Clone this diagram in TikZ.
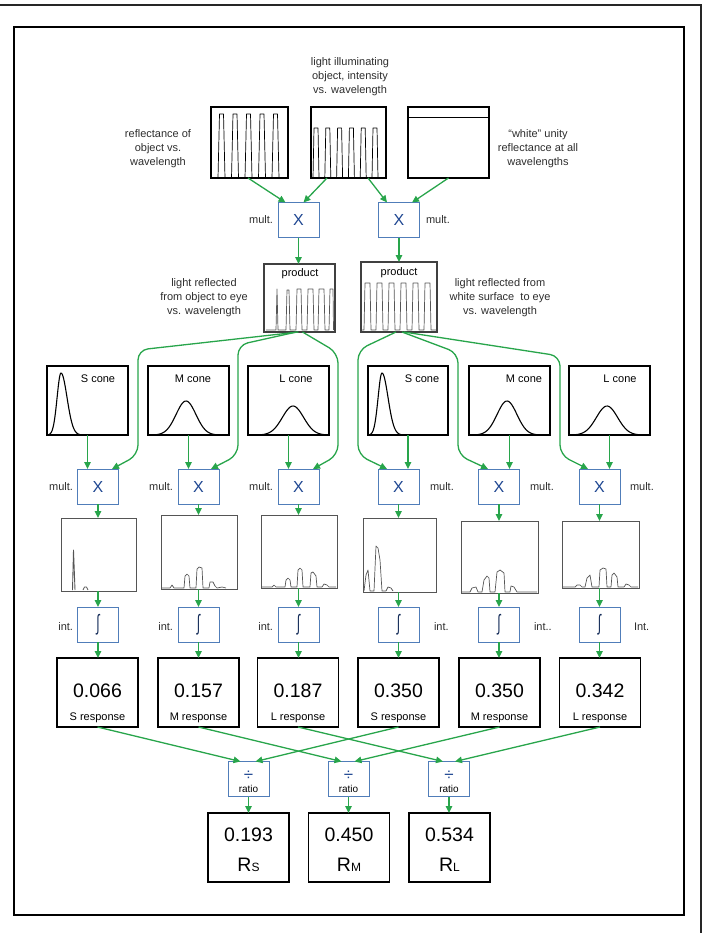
\documentclass[tikz,border=0pt]{standalone}
\usepackage{fontspec}
\usepackage{graphicx}
\setmainfont{Liberation Sans}
\usetikzlibrary{arrows.meta,calc}
\definecolor{agreen}{RGB}{40,165,75}
\definecolor{bblue}{RGB}{80,125,185}
\definecolor{xblue}{RGB}{30,70,145}
\definecolor{lgray}{RGB}{45,45,45}
\definecolor{pgray}{RGB}{85,85,85}
\begin{document}
\begin{tikzpicture}[x=1pt,y=-1pt,
  every node/.style={inner sep=0pt,outer sep=0pt},
  lbl/.style={font=\fontsize{11}{14}\selectfont,text=lgray,align=center},
  pbox/.style={draw=black,line width=1.1pt,rectangle},
  gbox/.style={draw=pgray,line width=1pt,rectangle},
  opbox/.style={draw=bblue,line width=1pt,rectangle,minimum width=41pt,minimum height=35pt,
     font=\fontsize{16}{16}\selectfont,text=xblue},
  rbox/.style={draw=black,line width=1.2pt,rectangle,minimum width=81pt,minimum height=69pt},
  bignum/.style={font=\fontsize{19.5}{20}\selectfont},
  conn/.style={draw=agreen,line width=1.3pt,-{Triangle[length=7pt,width=6.5pt]}},
  curve/.style={conn,rounded corners=10pt},
  pl/.style={line width=0.7pt,line join=round},
  cl/.style={line width=1.1pt,line join=round},
  gl/.style={line width=0.7pt,draw=pgray,line join=round}]
\useasboundingbox (0,0) rectangle (705,933);
% frames
\draw[line width=1.6pt,black!85] (0,5) -- (701,5) -- (701,933);
\draw[line width=1.3pt] (14,27) rectangle (684,915);

% ---------- top row ----------
\node[lbl] (tl) at (350,77) {light illuminating\\object, intensity\\vs. wavelength};
\node[lbl] (rl) at (158,149) {reflectance of\\object vs.\\wavelength};
\node[lbl] (wl) at (538,149) {“white” unity\\reflectance at all\\wavelengths};

\node[pbox,minimum width=77pt,minimum height=71pt] (pa) at (249.5,142.5) {};
\node[pbox,minimum width=75pt,minimum height=71pt] (pb) at (348.5,142.5) {};
\node[pbox,minimum width=81pt,minimum height=71pt] (pc) at (448.5,142.5) {};
\draw[pl] (212,178) foreach \i in {0,...,4} { -- ({218+13.5*\i},178) -- ({219.5+13.5*\i},114) -- ({223.5+13.5*\i},114) -- ({225+13.5*\i},178)};
\draw[pl] (312,178) foreach \i in {0,...,5} { -- ({313+11.8*\i},178) -- ({314+11.8*\i},128) -- ({318+11.8*\i},128) -- ({319+11.8*\i},178)} -- (385,178);
\draw[pl,line width=1pt] (pc.west |- 0,118) -- (pc.east |- 0,118);

\node[opbox] (x1) at (298.5,220) {X};
\node[opbox] (x2) at (399,220) {X};
\node[lbl,anchor=east] (x1l) at (273,220) {mult.};
\node[lbl,anchor=west] (x2l) at (426,220) {mult.};
\draw[conn] ($(pa.south)+(-1.5,0)$) -- ($(x1.north)+(-13,0)$);
\draw[conn] ($(pb.south)+(-21.5,0)$) -- ($(x1.north)+(5,0)$);
\draw[conn] ($(pb.south)+(19.5,0)$) -- ($(x2.north)+(-12,0)$);
\draw[conn] (pc.south) -- ($(x2.north)+(13,0)$);

% ---------- products ----------
\node[pbox,draw=black!75,minimum width=71pt,minimum height=68pt] (p1) at (299.5,298) {};
\node[pbox,draw=black!75,minimum width=76pt,minimum height=70pt] (p2) at (399,297) {};
\node[lbl,text=black] (p1t) at (300,274) {product};
\node[lbl,text=black] (p2t) at (399,273) {product};
\draw[conn] (x1.south) -- (x1.south |- p1.north);
\draw[conn] (x2.south) -- (x2.south |- p2.north);
\draw[gl] (266,330) -- (276,330) -- (277,289) -- (278,330) -- (286,330) -- (287,290) -- (289,290) -- (290,330)
  -- (296,330) -- (297,289) -- (301,289) -- (302,330) -- (307,330) -- (308,289) -- (313,289) -- (314,330)
  -- (318,330) -- (319,289) -- (324,289) -- (325,330) -- (329,330) -- (330,289) -- (333,289) -- (333.5,330);
\draw[gl] (362,330) foreach \i in {0,...,5} { -- ({364+12*\i},330) -- ({365+12*\i},283) -- ({370+12*\i},283) -- ({371+12*\i},330)} -- (436,330);
\node[lbl] (p1l) at (204,298) {light reflected\\from object to eye\\vs. wavelength};
\node[lbl] (p2l) at (500,298) {light reflected from\\white surface \ to eye\\vs. wavelength};

% ---------- cones ----------
\node[pbox,minimum width=81pt,minimum height=69pt] (c1) at (87.5,400.5) {};
\node[pbox,minimum width=81pt,minimum height=69pt] (c2) at (188.5,400.5) {};
\node[pbox,minimum width=81pt,minimum height=69pt] (c3) at (288.5,400.5) {};
\node[pbox,minimum width=80pt,minimum height=69pt] (c4) at (408,400.5) {};
\node[pbox,minimum width=81pt,minimum height=69pt] (c5) at (509.5,400.5) {};
\node[pbox,minimum width=81pt,minimum height=69pt] (c6) at (609.5,400.5) {};
\node[lbl,text=black] (c1t) at (98,379) {S cone};
\node[lbl,text=black] (c2t) at (193,379) {M cone};
\node[lbl,text=black] (c3t) at (296,379) {L cone};
\node[lbl,text=black] (c4t) at (422,379) {S cone};
\node[lbl,text=black] (c5t) at (524,379) {M cone};
\node[lbl,text=black] (c6t) at (620,379) {L cone};
\draw[cl] plot[domain=48:61,samples=30] (\x,{435-62*exp(-((\x-61)/5.5)^2)});
\draw[cl] plot[domain=61:86,samples=40] (\x,{435-62*exp(-((\x-61)/8.5)^2)});
\draw[cl] plot[domain=149:228,samples=60] (\x,{435-34*exp(-((\x-186)/14)^2)});
\draw[cl] plot[domain=249:328,samples=60] (\x,{435-29*exp(-((\x-293)/15)^2)});
\draw[cl] plot[domain=369:382,samples=30] (\x,{435-62*exp(-((\x-382)/5.5)^2)});
\draw[cl] plot[domain=382:407,samples=40] (\x,{435-62*exp(-((\x-382)/8.5)^2)});
\draw[cl] plot[domain=470:549,samples=60] (\x,{435-34*exp(-((\x-507)/14)^2)});
\draw[cl] plot[domain=570:649,samples=60] (\x,{435-29*exp(-((\x-607)/15)^2)});

% ---------- multiply / integrate rows ----------
\foreach \n/\xx in {1/98,2/198.5,3/298.5,4/398.5,5/499,6/599.5}{
  \node[opbox] (m\n) at (\xx,486.5) {X};
  \node[opbox,font=\fontsize{22}{22}\selectfont,text=xblue!60!black] (i\n) at (\xx,624.5) {\scalebox{0.55}[1]{∫}};
}
\node[lbl,anchor=east] (m1l) at (73,487) {mult.};
\node[lbl,anchor=east] (m2l) at (173,487) {mult.};
\node[lbl,anchor=east] (m3l) at (273,487) {mult.};
\node[lbl,anchor=west] (m4l) at (430,487) {mult.};
\node[lbl,anchor=west] (m5l) at (530,487) {mult.};
\node[lbl,anchor=west] (m6l) at (630,487) {mult.};
\draw[conn] (c1.south) -- (c1.south |- m1.north);
\draw[conn] (c2.south) -- (c2.south |- m2.north);
\draw[conn] (c3.south) -- (c3.south |- m3.north);
\draw[conn] (c4.south) -- (c4.south |- m4.north);
\draw[conn] (c5.south) -- (c5.south |- m5.north);
\draw[conn] (c6.south) -- (c6.south |- m6.north);
\draw[curve] ($(p1.south)+(-1,0)$) -- (138,350) -- (138,455) -- ($(m1.north)+(14,0)$);
\draw[curve] ($(p1.south)+(-3,0)$) -- (238,345) -- (238,455) -- ($(m2.north)+(12.5,0)$);
\draw[curve] ($(p1.south)+(3,0)$) -- (338,353) -- (338,455) -- ($(m3.north)+(14.5,0)$);
\draw[curve] ($(p2.south)+(-3,0)$) -- (358,350) -- (358,455) -- ($(m4.north)+(-11.5,0)$);
\draw[curve] ($(p2.south)+(3,0)$) -- (458,353) -- (458,455) -- ($(m5.north)+(-11,0)$);
\draw[curve] ($(p2.south)+(5,0)$) -- (560,356) -- (560,455) -- ($(m6.north)+(-11.5,0)$);

% ---------- product plots ----------
\node[gbox,minimum width=75pt,minimum height=73pt] (g1) at (98.5,554.5) {};
\node[gbox,minimum width=76pt,minimum height=74pt] (g2) at (199,552) {};
\node[gbox,minimum width=76pt,minimum height=73pt] (g3) at (299,551.5) {};
\node[gbox,minimum width=73pt,minimum height=74pt] (g4) at (399.5,555) {};
\node[gbox,minimum width=77pt,minimum height=72pt] (g5) at (499.5,557) {};
\node[gbox,minimum width=77pt,minimum height=67pt] (g6) at (600.5,554.5) {};
\draw[gl,line width=0.9pt] (72.5,590) -- (73.5,550) -- (75,590);
\draw[gl] (83,590) -- (84.5,587) -- (86.5,587) -- (88,590);
\draw[gl] (162,588) -- (170,588) -- (172,585) -- (174,588) -- (184,588) -- (185,576) -- (187,574) -- (189,576) -- (190,588)
  -- (196,588) -- (197,569) -- (199,567) -- (202,568) -- (203,588) -- (209,588) -- (210,582) -- (213,582) -- (215,586)
  -- (217,588) -- (222,587) -- (226,588);
\draw[gl] (262,587) -- (272,587) -- (274,585) -- (276,587) -- (285,587) -- (286,580) -- (288,578) -- (290,580) -- (291,587)
  -- (297,587) -- (298,570) -- (300,568) -- (302,570) -- (303,587) -- (310,587) -- (311,573) -- (313,572) -- (316,576)
  -- (317,587) -- (322,587) -- (324,584) -- (327,585) -- (329,587) -- (336,587);
\draw[gl] (364,591) -- (366,575) -- (368,570) -- (370,591) -- (374,591) -- (376,546) -- (378,548) -- (380,560) -- (382,591)
  -- (386,591) -- (388,587) -- (391,588) -- (393,591);
\draw[gl] (462,592) -- (470,592) -- (472,588) -- (476,587) -- (478,592) -- (482,592) -- (484,580) -- (487,576) -- (489,578)
  -- (490,592) -- (495,592) -- (497,572) -- (500,570) -- (504,573) -- (505,592) -- (510,592) -- (511,586) -- (514,587)
  -- (517,592) -- (537,592);
\draw[gl] (563,587) -- (575,587) -- (577,585) -- (580,585) -- (582,587) -- (585,587) -- (587,578) -- (590,575) -- (592,587)
  -- (599,587) -- (600,570) -- (603,568) -- (606,569) -- (607,587) -- (611,587) -- (612,575) -- (614,573) -- (617,577)
  -- (618,587) -- (624,587) -- (626,584) -- (629,585) -- (631,587) -- (638,587);
\foreach \n in {1,...,6}{
  \draw[conn] (m\n.south) -- (m\n.south |- g\n.north);
  \draw[conn] (i\n.north |- g\n.south) -- (i\n.north);
}

% ---------- integrate labels ----------
\node[lbl,anchor=east] (i1l) at (73,627) {int.};
\node[lbl,anchor=east] (i2l) at (173,627) {int.};
\node[lbl,anchor=east] (i3l) at (273,627) {int.};
\node[lbl,anchor=west] (i4l) at (434,627) {int.};
\node[lbl,anchor=west] (i5l) at (534,627) {int..};
\node[lbl,anchor=west] (i6l) at (634,627) {Int.};

% ---------- responses ----------
\foreach \n/\xx/\v/\t in {1/97.5/0.066/S response,2/198.5/0.157/M response,3/298/0.187/L response,
    4/398.5/0.350/S response,5/499.5/0.350/M response,6/600/0.342/L response}{
  \node[rbox] (r\n) at (\xx,692.5) {};
  \node[bignum] (r\n n) at (\xx,691) {\v};
  \node[lbl,text=black] (r\n t) at (\xx,718) {\t};
  \draw[conn] (i\n.south) -- (i\n.south |- r\n.north);
}

% ---------- ratios ----------
\foreach \n/\xx in {1/248.5,2/348.5,3/449}{
  \node[opbox] (q\n) at (\xx,779) {};
  \node[font=\fontsize{17}{17}\selectfont,text=xblue] (q\n d) at (\xx,775.5) {÷};
  \node[font=\fontsize{10}{10}\selectfont] (q\n t) at (\xx,789) {ratio};
}
\draw[conn] (r1.south) -- ($(q1.north)+(-8,0)$);
\draw[conn] (r4.south) -- ($(q1.north)+(7,0)$);
\draw[conn] (r2.south) -- ($(q2.north)+(-7,0)$);
\draw[conn] (r5.south) -- ($(q2.north)+(6,0)$);
\draw[conn] (r3.south) -- ($(q3.north)+(-6,0)$);
\draw[conn] (r6.south) -- ($(q3.north)+(6,0)$);

% ---------- results ----------
\foreach \n/\xx/\v/\s in {1/248.5/0.193/S,2/349/0.450/M,3/449.5/0.534/L}{
  \node[rbox] (s\n) at (\xx,847.5) {};
  \node[bignum] (s\n n) at (\xx,835) {\v};
  \node[bignum] (s\n r) at (\xx,865) {R{\fontsize{12}{12}\selectfont\s}};
  \draw[conn] (q\n.south) -- (q\n.south |- s\n.north);
}
\end{tikzpicture}
\end{document}
